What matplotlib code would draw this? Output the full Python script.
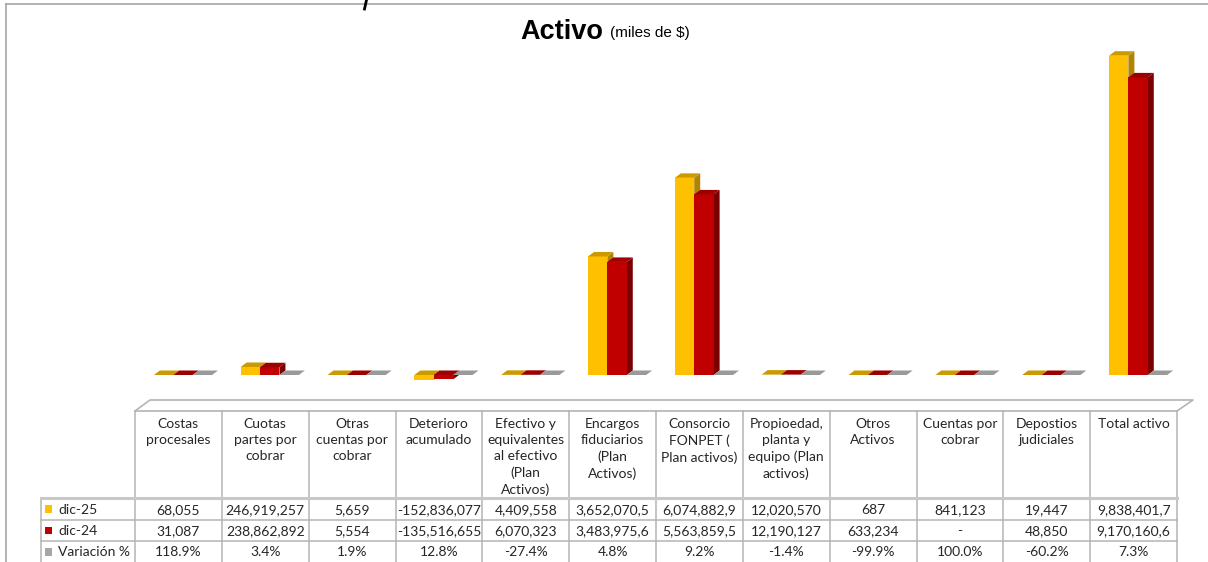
import matplotlib
matplotlib.use("Agg")
import matplotlib.pyplot as plt
from matplotlib.patches import Polygon, Rectangle

# ── data (miles de $) ────────────────────────────────────────────────
categories = [
    "Costas\nprocesales",
    "Cuotas\npartes por\ncobrar",
    "Otras\ncuentas por\ncobrar",
    "Deterioro\nacumulado",
    "Efectivo y\nequivalentes\nal efectivo\n(Plan\nActivos)",
    "Encargos\nfiduciarios\n(Plan\nActivos)",
    "Consorcio\nFONPET (\nPlan activos)",
    "Propioedad,\nplanta y\nequipo (Plan\nactivos)",
    "Otros\nActivos",
    "Cuentas por\ncobrar",
    "Depostios\njudiciales",
    "Total activo",
]
dic25 = [68055, 246919257, 5659, -152836077, 4409558, 3652070500,
         6074882900, 12020570, 687, 841123, 19447, 9838401700]
dic24 = [31087, 238862892, 5554, -135516655, 6070323, 3483975600,
         5563859500, 12190127, 633234, 0, 48850, 9170160600]
variacion = [118.9, 3.4, 1.9, 12.8, -27.4, 4.8, 9.2, -1.4, -99.9, 100.0, -60.2, 7.3]

# table text as printed in the sheet (cells are clipped by column width)
dic25_text = ["68,055", "246,919,257", "5,659", "-152,836,077", "4,409,558",
              "3,652,070,5", "6,074,882,9", "12,020,570", "687", "841,123",
              "19,447", "9,838,401,7"]
dic24_text = ["31,087", "238,862,892", "5,554", "-135,516,655", "6,070,323",
              "3,483,975,6", "5,563,859,5", "12,190,127", "633,234", "-",
              "48,850", "9,170,160,6"]
variacion_text = [f"{v:.1f}%" for v in variacion]

series_names = ["dic-25", "dic-24", "Variación %"]

# colours: front, top, side
YELLOW = ("#FFC000", "#CC9A00", "#B08400")
RED = ("#C00000", "#9C0000", "#7A0000")
GRAY = ("#A6A6A6", "#9A9A9A", "#7F7F7F")

W, H = 1208, 562
FONT = ["Lato", "DejaVu Sans"]
FS = 10

fig = plt.figure(figsize=(W / 100, H / 100), dpi=100)
fig.patch.set_facecolor("white")

# overlay in pixel coordinates for frame / table / title
ov = fig.add_axes([0, 0, 1, 1])
ov.set_xlim(0, W)
ov.set_ylim(H, 0)
ov.axis("off")

# frame of the chart object
ov.plot([6, W], [4, 4], color="#A6A6A6", lw=1.2)
ov.plot([6, 6], [4, H], color="#A6A6A6", lw=1.2)
ov.plot([366.5, 364.5], [0, 9], color="black", lw=2)

# title
ov.text(603, 32, "Activo", ha="right", va="center", fontsize=19.5,
        fontweight="bold", family="Liberation Sans")
ov.text(610, 33, "(miles de $)", ha="left", va="center", fontsize=11,
        family="Liberation Sans")

# ── bars ──────────────────────────────────────────────────────────────
TL, TR = 135, 1177          # table / plot left and right edges (px)
AX_TOP, AX_BOT = 40, 395
n = len(categories)
ymax_px = 335 * 3.0813e7    # value at top of axes
ymin_px = -20 * 3.0813e7

ax = fig.add_axes([TL / W, (H - AX_BOT) / H, (TR - TL) / W, (AX_BOT - AX_TOP) / H])
ax.set_xlim(-0.5, n - 0.5)
ax.set_ylim(ymin_px, ymax_px)
ax.axis("off")
ax.patch.set_alpha(0)

ux = n / (TR - TL)                              # category units per px
uy = (ymax_px - ymin_px) / (AX_BOT - AX_TOP)    # value units per px
DX, DY = 6 * ux, 4.5 * uy
bw = 19.4 * ux
shift = 4.5 * ux

series = [dic25, dic24, [v / 100 for v in variacion]]
styles = [YELLOW, RED, GRAY]
for k, (vals, (front, top, side)) in enumerate(zip(series, styles)):
    xs = [i + shift + (k - 1) * bw for i in range(n)]
    lows = [min(v, 0) for v in vals]
    highs = [max(v, 0) for v in vals]
    ax.bar(xs, [h - l for h, l in zip(highs, lows)], bottom=lows, width=bw,
           color=front, linewidth=0, zorder=2 + k * 3)
    for x, lo, hi in zip(xs, lows, highs):
        x0, x1 = x - bw / 2, x + bw / 2
        ax.add_patch(Polygon([(x0, hi), (x1, hi), (x1 + DX, hi + DY), (x0 + DX, hi + DY)],
                             closed=True, fc=top, ec="none", zorder=3 + k * 3))
        ax.add_patch(Polygon([(x1, lo), (x1 + DX, lo + DY), (x1 + DX, hi + DY), (x1, hi)],
                             closed=True, fc=side, ec="none", zorder=1 + k * 3))

# ── data table ────────────────────────────────────────────────────────
LC = "#B4B4B4"
col_w = (TR - TL) / n
HEAD_TOP, R1, R2, R3, BOT = 411, 498, 519.5, 541, H
LEG_L = 41

# slanted floor edge above the table
ov.plot([TL, TL + 15, TR + 16, TR], [HEAD_TOP, 400, 400, HEAD_TOP], color=LC, lw=1.2)
ov.plot([TL, TR], [HEAD_TOP, HEAD_TOP], color=LC, lw=1.2)
for i in range(n + 1):
    x = TL + i * col_w
    ov.plot([x, x], [HEAD_TOP, BOT], color=LC, lw=1.1)
ov.plot([LEG_L, LEG_L], [R1, BOT], color=LC, lw=1.1)
ov.plot([LEG_L, TR], [R1, R1], color="#C8C8C8", lw=2.2)
for y in (R2, R3):
    ov.plot([LEG_L, TR], [y, y], color=LC, lw=1.1)

for i, lab in enumerate(categories):
    cx = TL + (i + 0.5) * col_w
    ov.text(cx, HEAD_TOP + 7, lab, ha="center", va="top", fontsize=FS,
            family=FONT, color="#262626", linespacing=1.42)

rows = [dic25_text, dic24_text, variacion_text]
row_c = [(R1 + R2) / 2, (R2 + R3) / 2, (R3 + BOT) / 2]
for r, (texts, yc) in enumerate(zip(rows, row_c)):
    for i, t in enumerate(texts):
        cx = TL + (i + 0.5) * col_w
        ov.text(cx, yc + 1, t, ha="center", va="center", fontsize=FS,
                family=FONT, color="#262626")
    ov.add_patch(Rectangle((44.5, yc - 3.5), 7.5, 7.5, fc=styles[r][0], ec="none"))
    ov.text(58, yc + 1, series_names[r], ha="left", va="center", fontsize=FS,
            family=FONT, color="#262626")

fig.savefig("out.png", dpi=100)
